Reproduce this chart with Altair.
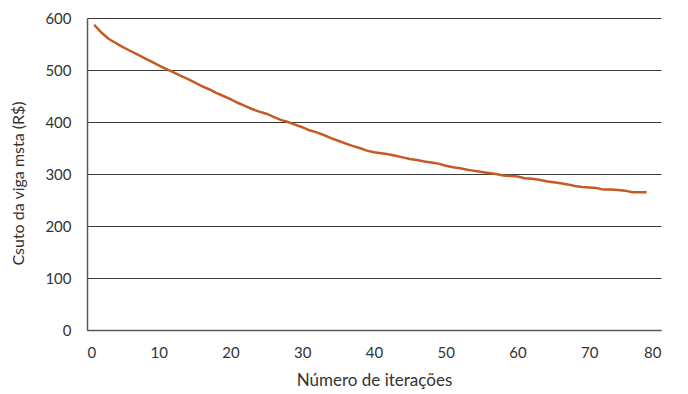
import altair as alt
import pandas as pd

iteracoes = list(range(1, 79))
custo = [587, 572, 560, 552, 544, 537, 530, 523, 516, 509,
         502, 496, 489, 483, 476, 469, 463, 456, 450, 444,
         437, 431, 425, 420, 416, 410, 404, 400, 395, 390,
         384, 380, 375, 369, 364, 359, 354, 350, 345, 342,
         340, 338, 335, 332, 329, 327, 324, 322, 320, 316,
         313, 311, 308, 306, 304, 302, 300, 297, 296, 295,
         292, 291, 289, 286, 284, 282, 280, 277, 275, 274,
         273, 270, 270, 269, 268, 265, 265, 265]

df = pd.DataFrame({"x": iteracoes, "y": custo})

chart = alt.Chart(df).mark_line(color="#C65A24", strokeWidth=2.5).encode(
    x=alt.X("x:Q", title="Número de iterações",
            scale=alt.Scale(domain=[0, 80], nice=False),
            axis=alt.Axis(values=list(range(0, 81, 10)), grid=False, ticks=False,
                          labelPadding=15, titlePadding=12, titleFontSize=17,
                          domainColor="#595959", domainWidth=1.5)),
    y=alt.Y("y:Q", title="Csuto da viga msta (R$)",
            scale=alt.Scale(domain=[0, 600], nice=False),
            axis=alt.Axis(values=list(range(0, 601, 100)), grid=True, ticks=False,
                          labelPadding=16, titlePadding=18, titleY=165,
                          gridColor="#3a3a3a",
                          gridWidth=1, domainColor="#595959", domainWidth=1.5)),
).properties(
    width=574, height=312,
    autosize=alt.AutoSizeParams(type="none"),
    padding={"left": 87, "top": 18, "right": 27, "bottom": 64},
).configure_axis(
    labelFont="Lato", titleFont="Lato", labelFontSize=15, titleFontSize=16,
    titleFontWeight="normal", labelColor="#333333", titleColor="#333333",
).configure_view(stroke=None)

chart.save("out.html", embed_options={"renderer": "svg", "actions": False})
